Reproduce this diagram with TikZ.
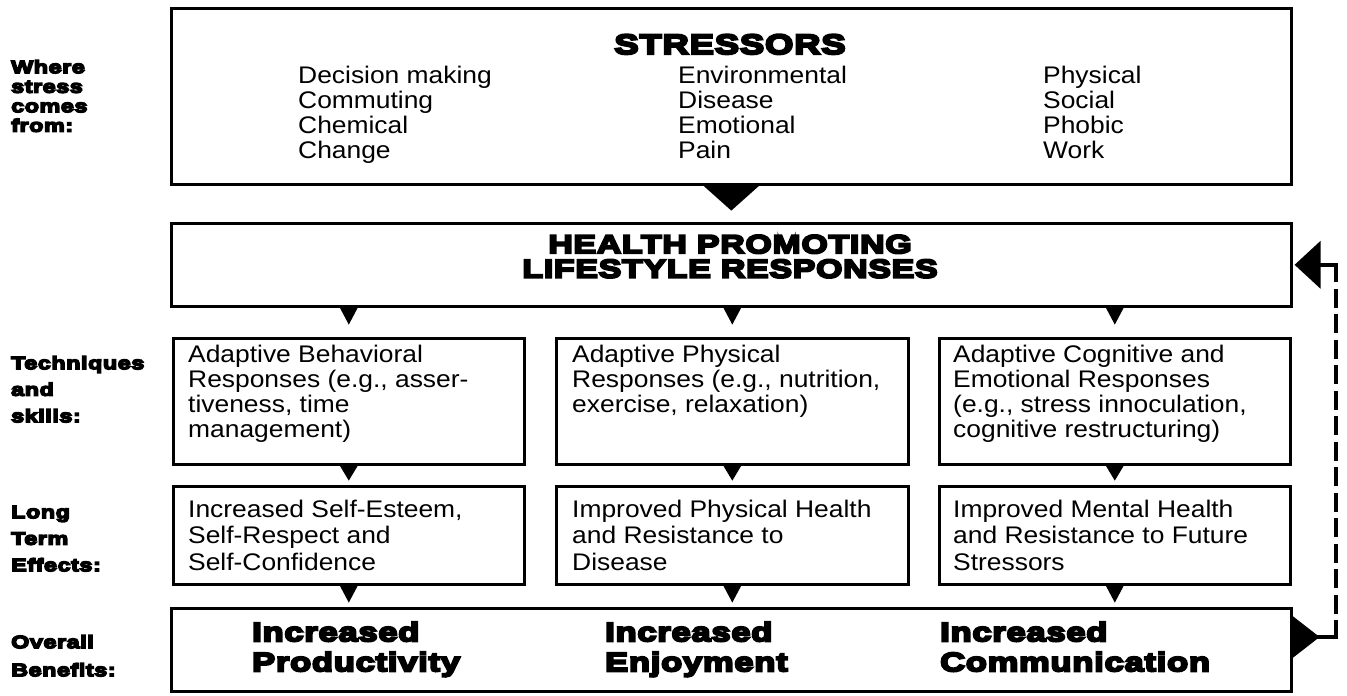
\documentclass[tikz,border=0pt]{standalone}
\usepackage{fontspec}
\setmainfont{Liberation Sans}[FakeStretch=1.1]
\newfontfamily\heavyfont{Liberation Sans}[UprightFont={* Bold}, FakeStretch=1.3, FakeBold=8, LetterSpace=3]
\usetikzlibrary{calc}

% strut that fixes the height of a block's first line
\newcommand\lineht[1]{\rule{0pt}{#1}}
% filled downward pointer hanging from a point
\newcommand\dtri[3]{\fill ($(#1)+(-#2,0)$) -- ($(#1)+(#2,0)$) -- ($(#1)+(0,#3)$) -- cycle;}

\begin{document}
\begin{tikzpicture}[x=1pt,y=-1pt,
  frame/.style={draw, line width=2.6pt, inner sep=0pt, anchor=north west},
  body/.style={anchor=north west, inner sep=0pt, align=left, font=\fontsize{24}{25}\selectfont},
  bodyloose/.style={body, font=\fontsize{24}{26.5}\selectfont},
  side/.style={anchor=north west, inner sep=0pt, align=left, font=\heavyfont\fontsize{18}{26.5}\selectfont},
  benefit/.style={anchor=north west, inner sep=0pt, align=left, font=\heavyfont\fontsize{26.5}{30}\selectfont},
  title/.style={inner sep=0pt, font=\heavyfont\fontsize{28}{28}\selectfont},
  feedback/.style={line width=4pt},
]
\useasboundingbox (0,0) rectangle (1347,696);

% boxes
\node[frame, minimum width=1120pt, minimum height=176pt] (stress) at (170,7) {};
\node[frame, minimum width=1120pt, minimum height=83pt] (health) at (170,222) {};
\node[frame, minimum width=351pt, minimum height=126pt] (tech1) at (172,337) {};
\node[frame, minimum width=352pt, minimum height=126pt] (tech2) at (555,337) {};
\node[frame, minimum width=351pt, minimum height=126pt] (tech3) at (938,337) {};
\node[frame, minimum width=351pt, minimum height=98pt] (long1) at (172,485) {};
\node[frame, minimum width=352pt, minimum height=98pt] (long2) at (555,485) {};
\node[frame, minimum width=351pt, minimum height=98pt] (long3) at (938,485) {};
\node[frame, minimum width=1120pt, minimum height=83pt] (ben) at (170,607) {};

% row labels
\node[side, font=\heavyfont\fontsize{18}{19.5}\selectfont] (lwhere) at (11,58) {\lineht{15pt}Where\\stress\\comes\\from:};
\node[side] (ltech) at (11,354) {\lineht{15pt}Techniques\\and\\skills:};
\node[side] (llong) at (11,503) {\lineht{15pt}Long\\Term\\Effects:};
\node[side, font=\heavyfont\fontsize{18}{28}\selectfont] (lben) at (11,633) {\lineht{15pt}Overall\\Benefits:};

% stressors
\node[title, anchor=base] (sttl) at (730,54) {STRESSORS};
\node[body] (s1) at (298,63) {\lineht{20pt}Decision making\\Commuting\\Chemical\\Change};
\node[body] (s2) at (678,63) {\lineht{20pt}Environmental\\Disease\\Emotional\\Pain};
\node[body] (s3) at (1043,63) {\lineht{20pt}Physical\\Social\\Phobic\\Work};

% responses heading
\node[title, align=center, anchor=north, font=\heavyfont\fontsize{26}{24.5}\selectfont] (htxt) at (730,232)
  {\lineht{21pt}HEALTH PROMOTING\\LIFESTYLE RESPONSES};

% techniques
\node[body] (t1) at (188,342) {\lineht{20pt}Adaptive Behavioral\\Responses (e.g., asser-\\tiveness, time\\management)};
\node[body] (t2) at (572,342) {\lineht{20pt}Adaptive Physical\\Responses (e.g., nutrition,\\exercise, relaxation)};
\node[body] (t3) at (953,342) {\lineht{20pt}Adaptive Cognitive and\\Emotional Responses\\(e.g., stress innoculation,\\cognitive restructuring)};

% long term effects
\node[bodyloose] (e1) at (188,497) {\lineht{20pt}Increased Self-Esteem,\\Self-Respect and\\Self-Confidence};
\node[bodyloose] (e2) at (572,497) {\lineht{20pt}Improved Physical Health\\and Resistance to\\Disease};
\node[bodyloose] (e3) at (953,497) {\lineht{20pt}Improved Mental Health\\and Resistance to Future\\Stressors};

% overall benefits
\node[benefit] (b1) at (252,619) {\lineht{22pt}Increased\\Productivity};
\node[benefit] (b2) at (605,619) {\lineht{22pt}Increased\\Enjoyment};
\node[benefit] (b3) at (940,619) {\lineht{22pt}Increased\\Communication};

% downward pointers
\dtri{stress.south}{28}{25}
\coordinate (h1) at (health.south -| tech1.north);
\coordinate (h2) at (health.south -| tech2.north);
\coordinate (h3) at (health.south -| tech3.north);
\dtri{h1}{9}{17}
\dtri{h2}{9}{17}
\dtri{h3}{9}{17}
\dtri{tech1.south}{9}{15}
\dtri{tech2.south}{9}{15}
\dtri{tech3.south}{9}{15}
\dtri{long1.south}{9}{17}
\dtri{long2.south}{9}{17}
\dtri{long3.south}{9}{17}

% feedback loop from benefits back to the responses
\coordinate (fbo) at ($(ben.north east)+(0,30)$);
\coordinate (fbi) at ($(health.east)+(2,0)$);
\coordinate (fbc1) at ($(fbo)+(43,0)$);
\coordinate (fbc2) at (fbc1 |- fbi);
\fill ($(fbo)+(0,-21)$) -- ($(fbo)+(27,0)$) -- ($(fbo)+(0,21)$) -- cycle;
\draw[feedback] ($(fbo)+(20,0)$) -- ($(fbc1)+(2,0)$);
\draw[feedback, dash pattern=on 19pt off 6.5pt] ($(fbc1)+(0,2)$) -- ($(fbc2)+(0,-2)$);
\draw[feedback] ($(fbc2)+(2,0)$) -- ($(fbi)+(20,0)$);
\fill (fbi) -- ($(fbi)+(26,-24)$) -- ($(fbi)+(26,24)$) -- cycle;
\end{tikzpicture}
\end{document}
